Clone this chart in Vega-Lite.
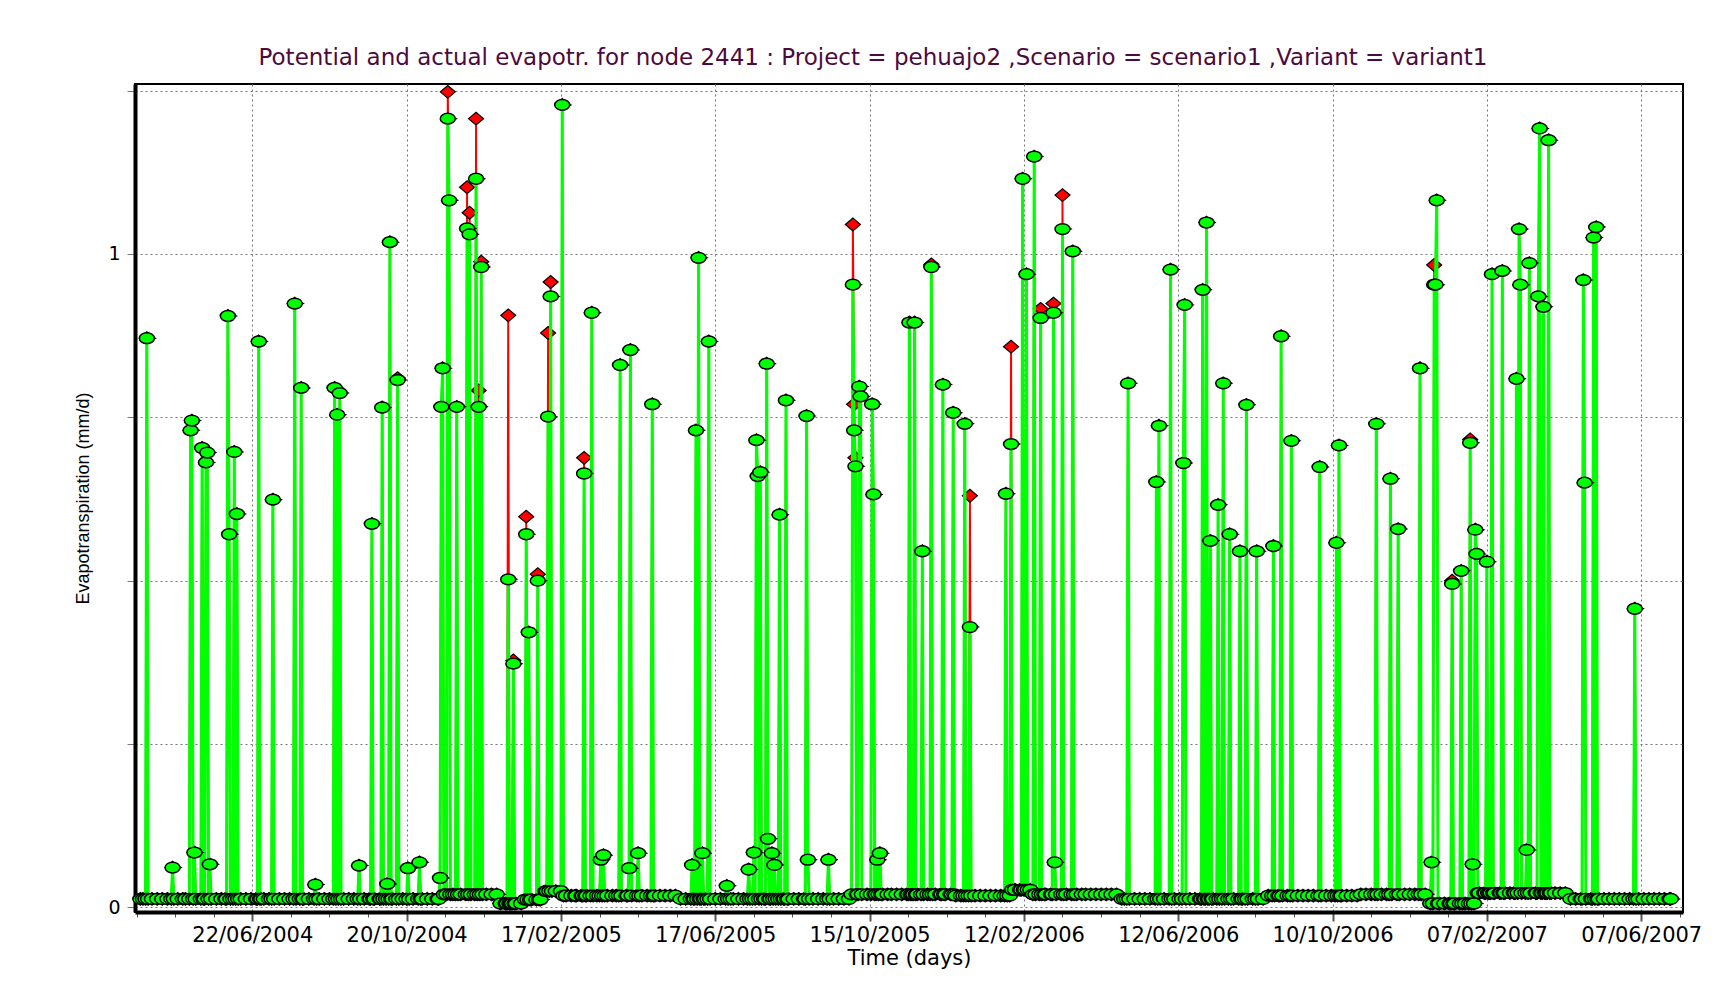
{
"$schema": "https://vega.github.io/schema/vega-lite/v6.json",
"width": 1548, "height": 828,
"autosize": {"type": "none"},
"padding": {"left": 135, "top": 84, "right": 36, "bottom": 91},
"background": "white",
"title": {"text": "Potential and actual evapotr. for node 2441  : Project = pehuajo2 ,Scenario = scenario1 ,Variant = variant1", "font": "DejaVu Sans", "fontSize": 23, "fontWeight": "normal", "color": "#4d0a40", "anchor": "middle", "offset": 13, "dx": -36},
"config": {"view": {"stroke": "black", "strokeWidth": 2}},
"data": {"values": [
{"d":"2004-03-27","a":0.013,"p":0.013},{"d":"2004-03-29","a":0.013,"p":0.013},{"d":"2004-03-31","a":0.013,"p":0.013},
{"d":"2004-04-01","a":0.871,"p":0.871},{"d":"2004-04-02","a":0.013,"p":0.013},{"d":"2004-04-05","a":0.013,"p":0.013},{"d":"2004-04-09","a":0.013,"p":0.013},{"d":"2004-04-13","a":0.013,"p":0.013},{"d":"2004-04-17","a":0.013,"p":0.013},{"d":"2004-04-20","a":0.013,"p":0.013},{"d":"2004-04-21","a":0.061,"p":0.061},{"d":"2004-04-22","a":0.013,"p":0.013},{"d":"2004-04-25","a":0.013,"p":0.013},{"d":"2004-04-29","a":0.013,"p":0.013},
{"d":"2004-05-01","a":0.013,"p":0.013},{"d":"2004-05-04","a":0.013,"p":0.013},{"d":"2004-05-05","a":0.73,"p":0.73},{"d":"2004-05-06","a":0.745,"p":0.745},{"d":"2004-05-07","a":0.013,"p":0.013},{"d":"2004-05-08","a":0.084,"p":0.084},{"d":"2004-05-09","a":0.013,"p":0.013},{"d":"2004-05-13","a":0.013,"p":0.013},{"d":"2004-05-14","a":0.703,"p":0.703},{"d":"2004-05-15","a":0.013,"p":0.013},{"d":"2004-05-16","a":0.013,"p":0.013},{"d":"2004-05-17","a":0.681,"p":0.681},{"d":"2004-05-18","a":0.696,"p":0.696},{"d":"2004-05-19","a":0.013,"p":0.013},{"d":"2004-05-20","a":0.066,"p":0.066},{"d":"2004-05-21","a":0.013,"p":0.013},{"d":"2004-05-25","a":0.013,"p":0.013},{"d":"2004-05-29","a":0.013,"p":0.013},
{"d":"2004-06-01","a":0.013,"p":0.013},{"d":"2004-06-02","a":0.013,"p":0.013},{"d":"2004-06-03","a":0.905,"p":0.905},{"d":"2004-06-04","a":0.571,"p":0.571},{"d":"2004-06-05","a":0.013,"p":0.013},{"d":"2004-06-07","a":0.013,"p":0.013},{"d":"2004-06-08","a":0.697,"p":0.697},{"d":"2004-06-09","a":0.013,"p":0.013},{"d":"2004-06-10","a":0.602,"p":0.602},{"d":"2004-06-11","a":0.013,"p":0.013},{"d":"2004-06-13","a":0.013,"p":0.013},{"d":"2004-06-17","a":0.013,"p":0.013},{"d":"2004-06-21","a":0.013,"p":0.013},{"d":"2004-06-25","a":0.013,"p":0.013},{"d":"2004-06-26","a":0.013,"p":0.013},{"d":"2004-06-27","a":0.866,"p":0.866},{"d":"2004-06-28","a":0.013,"p":0.013},{"d":"2004-06-29","a":0.013,"p":0.013},
{"d":"2004-07-01","a":0.013,"p":0.013},{"d":"2004-07-05","a":0.013,"p":0.013},{"d":"2004-07-07","a":0.013,"p":0.013},{"d":"2004-07-08","a":0.624,"p":0.624},{"d":"2004-07-09","a":0.013,"p":0.013},{"d":"2004-07-13","a":0.013,"p":0.013},{"d":"2004-07-17","a":0.013,"p":0.013},{"d":"2004-07-21","a":0.013,"p":0.013},{"d":"2004-07-24","a":0.013,"p":0.013},{"d":"2004-07-25","a":0.924,"p":0.924},{"d":"2004-07-26","a":0.013,"p":0.013},{"d":"2004-07-29","a":0.013,"p":0.013},{"d":"2004-07-30","a":0.795,"p":0.795},{"d":"2004-07-31","a":0.013,"p":0.013},
{"d":"2004-08-01","a":0.013,"p":0.013},{"d":"2004-08-05","a":0.013,"p":0.013},{"d":"2004-08-09","a":0.013,"p":0.013},{"d":"2004-08-10","a":0.035,"p":0.035},{"d":"2004-08-11","a":0.013,"p":0.013},{"d":"2004-08-13","a":0.013,"p":0.013},{"d":"2004-08-17","a":0.013,"p":0.013},{"d":"2004-08-21","a":0.013,"p":0.013},{"d":"2004-08-24","a":0.013,"p":0.013},{"d":"2004-08-25","a":0.795,"p":0.795},{"d":"2004-08-26","a":0.013,"p":0.013},{"d":"2004-08-27","a":0.754,"p":0.754},{"d":"2004-08-28","a":0.013,"p":0.013},{"d":"2004-08-29","a":0.787,"p":0.787},{"d":"2004-08-30","a":0.013,"p":0.013},
{"d":"2004-09-01","a":0.013,"p":0.013},{"d":"2004-09-05","a":0.013,"p":0.013},{"d":"2004-09-09","a":0.013,"p":0.013},{"d":"2004-09-12","a":0.013,"p":0.013},{"d":"2004-09-13","a":0.064,"p":0.064},{"d":"2004-09-14","a":0.013,"p":0.013},{"d":"2004-09-17","a":0.013,"p":0.013},{"d":"2004-09-21","a":0.013,"p":0.013},{"d":"2004-09-22","a":0.013,"p":0.013},{"d":"2004-09-23","a":0.587,"p":0.587},{"d":"2004-09-24","a":0.013,"p":0.013},{"d":"2004-09-25","a":0.013,"p":0.013},{"d":"2004-09-29","a":0.013,"p":0.013},{"d":"2004-09-30","a":0.013,"p":0.013},
{"d":"2004-10-01","a":0.765,"p":0.765},{"d":"2004-10-02","a":0.013,"p":0.013},{"d":"2004-10-04","a":0.013,"p":0.013},{"d":"2004-10-05","a":0.036,"p":0.036},{"d":"2004-10-06","a":0.013,"p":0.013},{"d":"2004-10-07","a":1.018,"p":1.018},{"d":"2004-10-08","a":0.013,"p":0.013},{"d":"2004-10-09","a":0.013,"p":0.013},{"d":"2004-10-12","a":0.013,"p":0.013},{"d":"2004-10-13","a":0.807,"p":0.81},{"d":"2004-10-14","a":0.013,"p":0.013},{"d":"2004-10-17","a":0.013,"p":0.013},{"d":"2004-10-20","a":0.013,"p":0.013},{"d":"2004-10-21","a":0.06,"p":0.06},{"d":"2004-10-22","a":0.013,"p":0.013},{"d":"2004-10-25","a":0.013,"p":0.013},{"d":"2004-10-29","a":0.013,"p":0.013},{"d":"2004-10-30","a":0.069,"p":0.069},{"d":"2004-10-31","a":0.013,"p":0.013},
{"d":"2004-11-01","a":0.013,"p":0.013},{"d":"2004-11-05","a":0.013,"p":0.013},{"d":"2004-11-09","a":0.013,"p":0.013},{"d":"2004-11-13","a":0.013,"p":0.013},{"d":"2004-11-14","a":0.013,"p":0.013},{"d":"2004-11-15","a":0.045,"p":0.045},{"d":"2004-11-16","a":0.766,"p":0.766},{"d":"2004-11-17","a":0.825,"p":0.825},{"d":"2004-11-18","a":0.02,"p":0.02},{"d":"2004-11-20","a":0.02,"p":0.02},{"d":"2004-11-21","a":1.207,"p":1.248},{"d":"2004-11-22","a":1.082,"p":1.082},{"d":"2004-11-23","a":0.02,"p":0.02},{"d":"2004-11-25","a":0.02,"p":0.02},{"d":"2004-11-27","a":0.02,"p":0.02},{"d":"2004-11-28","a":0.766,"p":0.766},{"d":"2004-11-29","a":0.02,"p":0.02},
{"d":"2004-12-01","a":0.02,"p":0.02},{"d":"2004-12-05","a":0.02,"p":0.02},{"d":"2004-12-06","a":1.039,"p":1.102},{"d":"2004-12-07","a":0.02,"p":0.02},{"d":"2004-12-08","a":1.03,"p":1.063},{"d":"2004-12-09","a":0.02,"p":0.02},{"d":"2004-12-12","a":0.02,"p":0.02},{"d":"2004-12-13","a":1.115,"p":1.207},{"d":"2004-12-14","a":0.02,"p":0.02},{"d":"2004-12-15","a":0.766,"p":0.791},{"d":"2004-12-16","a":0.02,"p":0.02},{"d":"2004-12-17","a":0.98,"p":0.988},{"d":"2004-12-18","a":0.02,"p":0.02},{"d":"2004-12-21","a":0.02,"p":0.02},{"d":"2004-12-25","a":0.02,"p":0.02},{"d":"2004-12-29","a":0.02,"p":0.02},
{"d":"2005-01-01","a":0.006,"p":0.006},{"d":"2005-01-05","a":0.006,"p":0.006},{"d":"2005-01-06","a":0.006,"p":0.006},{"d":"2005-01-07","a":0.502,"p":0.906},{"d":"2005-01-08","a":0.006,"p":0.006},{"d":"2005-01-09","a":0.006,"p":0.006},{"d":"2005-01-10","a":0.006,"p":0.006},{"d":"2005-01-11","a":0.373,"p":0.378},{"d":"2005-01-12","a":0.006,"p":0.006},{"d":"2005-01-13","a":0.006,"p":0.006},{"d":"2005-01-17","a":0.006,"p":0.006},{"d":"2005-01-20","a":0.012,"p":0.012},{"d":"2005-01-21","a":0.571,"p":0.598},{"d":"2005-01-22","a":0.012,"p":0.012},{"d":"2005-01-23","a":0.421,"p":0.421},{"d":"2005-01-24","a":0.012,"p":0.012},{"d":"2005-01-25","a":0.012,"p":0.012},{"d":"2005-01-29","a":0.012,"p":0.012},{"d":"2005-01-30","a":0.5,"p":0.51},{"d":"2005-01-31","a":0.012,"p":0.012},
{"d":"2005-02-01","a":0.012,"p":0.012},{"d":"2005-02-05","a":0.025,"p":0.025},{"d":"2005-02-06","a":0.025,"p":0.025},{"d":"2005-02-07","a":0.751,"p":0.879},{"d":"2005-02-08","a":0.025,"p":0.025},{"d":"2005-02-09","a":0.935,"p":0.957},{"d":"2005-02-10","a":0.025,"p":0.025},{"d":"2005-02-13","a":0.025,"p":0.025},{"d":"2005-02-17","a":0.025,"p":0.025},{"d":"2005-02-18","a":1.228,"p":1.228},{"d":"2005-02-19","a":0.018,"p":0.018},{"d":"2005-02-21","a":0.018,"p":0.018},{"d":"2005-02-25","a":0.018,"p":0.018},{"d":"2005-02-28","a":0.018,"p":0.018},
{"d":"2005-03-01","a":0.018,"p":0.018},{"d":"2005-03-05","a":0.018,"p":0.018},{"d":"2005-03-06","a":0.018,"p":0.018},{"d":"2005-03-07","a":0.664,"p":0.688},{"d":"2005-03-08","a":0.018,"p":0.018},{"d":"2005-03-09","a":0.018,"p":0.018},{"d":"2005-03-12","a":0.018,"p":0.018},{"d":"2005-03-13","a":0.91,"p":0.91},{"d":"2005-03-14","a":0.018,"p":0.018},{"d":"2005-03-17","a":0.018,"p":0.018},{"d":"2005-03-19","a":0.018,"p":0.018},{"d":"2005-03-20","a":0.073,"p":0.073},{"d":"2005-03-21","a":0.018,"p":0.018},{"d":"2005-03-22","a":0.08,"p":0.08},{"d":"2005-03-23","a":0.018,"p":0.018},{"d":"2005-03-25","a":0.018,"p":0.018},{"d":"2005-03-29","a":0.018,"p":0.018},
{"d":"2005-04-01","a":0.018,"p":0.018},{"d":"2005-04-03","a":0.018,"p":0.018},{"d":"2005-04-04","a":0.83,"p":0.83},{"d":"2005-04-05","a":0.018,"p":0.018},{"d":"2005-04-09","a":0.018,"p":0.018},{"d":"2005-04-10","a":0.018,"p":0.018},{"d":"2005-04-11","a":0.06,"p":0.06},{"d":"2005-04-12","a":0.853,"p":0.853},{"d":"2005-04-13","a":0.018,"p":0.018},{"d":"2005-04-17","a":0.018,"p":0.018},{"d":"2005-04-18","a":0.083,"p":0.083},{"d":"2005-04-19","a":0.018,"p":0.018},{"d":"2005-04-21","a":0.018,"p":0.018},{"d":"2005-04-25","a":0.018,"p":0.018},{"d":"2005-04-28","a":0.018,"p":0.018},{"d":"2005-04-29","a":0.77,"p":0.77},{"d":"2005-04-30","a":0.018,"p":0.018},
{"d":"2005-05-01","a":0.018,"p":0.018},{"d":"2005-05-05","a":0.018,"p":0.018},{"d":"2005-05-09","a":0.018,"p":0.018},{"d":"2005-05-13","a":0.018,"p":0.018},{"d":"2005-05-17","a":0.018,"p":0.018},{"d":"2005-05-21","a":0.013,"p":0.013},{"d":"2005-05-25","a":0.013,"p":0.013},{"d":"2005-05-29","a":0.013,"p":0.013},{"d":"2005-05-30","a":0.065,"p":0.065},{"d":"2005-05-31","a":0.013,"p":0.013},
{"d":"2005-06-01","a":0.013,"p":0.013},{"d":"2005-06-02","a":0.73,"p":0.73},{"d":"2005-06-03","a":0.013,"p":0.013},{"d":"2005-06-04","a":0.994,"p":0.994},{"d":"2005-06-05","a":0.013,"p":0.013},{"d":"2005-06-06","a":0.013,"p":0.013},{"d":"2005-06-07","a":0.083,"p":0.083},{"d":"2005-06-08","a":0.013,"p":0.013},{"d":"2005-06-09","a":0.013,"p":0.013},{"d":"2005-06-11","a":0.013,"p":0.013},{"d":"2005-06-12","a":0.866,"p":0.866},{"d":"2005-06-13","a":0.013,"p":0.013},{"d":"2005-06-17","a":0.013,"p":0.013},{"d":"2005-06-21","a":0.013,"p":0.013},{"d":"2005-06-25","a":0.013,"p":0.013},{"d":"2005-06-26","a":0.033,"p":0.033},{"d":"2005-06-27","a":0.013,"p":0.013},{"d":"2005-06-29","a":0.013,"p":0.013},
{"d":"2005-07-01","a":0.013,"p":0.013},{"d":"2005-07-05","a":0.013,"p":0.013},{"d":"2005-07-09","a":0.013,"p":0.013},{"d":"2005-07-12","a":0.013,"p":0.013},{"d":"2005-07-13","a":0.058,"p":0.058},{"d":"2005-07-14","a":0.013,"p":0.013},{"d":"2005-07-16","a":0.013,"p":0.013},{"d":"2005-07-17","a":0.084,"p":0.084},{"d":"2005-07-18","a":0.013,"p":0.013},{"d":"2005-07-19","a":0.715,"p":0.715},{"d":"2005-07-20","a":0.66,"p":0.66},{"d":"2005-07-21","a":0.013,"p":0.013},{"d":"2005-07-22","a":0.666,"p":0.666},{"d":"2005-07-23","a":0.013,"p":0.013},{"d":"2005-07-25","a":0.013,"p":0.013},{"d":"2005-07-26","a":0.013,"p":0.013},{"d":"2005-07-27","a":0.832,"p":0.832},{"d":"2005-07-28","a":0.105,"p":0.105},{"d":"2005-07-29","a":0.013,"p":0.013},{"d":"2005-07-30","a":0.013,"p":0.013},{"d":"2005-07-31","a":0.083,"p":0.083},
{"d":"2005-08-01","a":0.013,"p":0.013},{"d":"2005-08-02","a":0.065,"p":0.065},{"d":"2005-08-03","a":0.013,"p":0.013},{"d":"2005-08-05","a":0.013,"p":0.013},{"d":"2005-08-06","a":0.601,"p":0.601},{"d":"2005-08-07","a":0.013,"p":0.013},{"d":"2005-08-09","a":0.013,"p":0.013},{"d":"2005-08-10","a":0.013,"p":0.013},{"d":"2005-08-11","a":0.776,"p":0.776},{"d":"2005-08-12","a":0.013,"p":0.013},{"d":"2005-08-13","a":0.013,"p":0.013},{"d":"2005-08-17","a":0.013,"p":0.013},{"d":"2005-08-21","a":0.013,"p":0.013},{"d":"2005-08-25","a":0.013,"p":0.013},{"d":"2005-08-26","a":0.013,"p":0.013},{"d":"2005-08-27","a":0.752,"p":0.752},{"d":"2005-08-28","a":0.073,"p":0.073},{"d":"2005-08-29","a":0.013,"p":0.013},
{"d":"2005-09-01","a":0.013,"p":0.013},{"d":"2005-09-05","a":0.013,"p":0.013},{"d":"2005-09-09","a":0.013,"p":0.013},{"d":"2005-09-12","a":0.013,"p":0.013},{"d":"2005-09-13","a":0.073,"p":0.073},{"d":"2005-09-14","a":0.013,"p":0.013},{"d":"2005-09-17","a":0.013,"p":0.013},{"d":"2005-09-21","a":0.013,"p":0.013},{"d":"2005-09-25","a":0.013,"p":0.013},{"d":"2005-09-29","a":0.013,"p":0.013},
{"d":"2005-10-01","a":0.02,"p":0.02},{"d":"2005-10-02","a":0.953,"p":1.045},{"d":"2005-10-03","a":0.73,"p":0.77},{"d":"2005-10-04","a":0.675,"p":0.688},{"d":"2005-10-05","a":0.02,"p":0.02},{"d":"2005-10-06","a":0.02,"p":0.02},{"d":"2005-10-07","a":0.797,"p":0.797},{"d":"2005-10-08","a":0.782,"p":0.782},{"d":"2005-10-09","a":0.02,"p":0.02},{"d":"2005-10-13","a":0.02,"p":0.02},{"d":"2005-10-16","a":0.02,"p":0.02},{"d":"2005-10-17","a":0.77,"p":0.77},{"d":"2005-10-18","a":0.632,"p":0.632},{"d":"2005-10-19","a":0.02,"p":0.02},{"d":"2005-10-20","a":0.02,"p":0.02},{"d":"2005-10-21","a":0.073,"p":0.073},{"d":"2005-10-22","a":0.02,"p":0.02},{"d":"2005-10-23","a":0.083,"p":0.083},{"d":"2005-10-24","a":0.02,"p":0.02},{"d":"2005-10-25","a":0.02,"p":0.02},{"d":"2005-10-29","a":0.02,"p":0.02},
{"d":"2005-11-01","a":0.02,"p":0.02},{"d":"2005-11-05","a":0.02,"p":0.02},{"d":"2005-11-09","a":0.02,"p":0.02},{"d":"2005-11-13","a":0.02,"p":0.02},{"d":"2005-11-14","a":0.02,"p":0.02},{"d":"2005-11-15","a":0.895,"p":0.895},{"d":"2005-11-16","a":0.02,"p":0.02},{"d":"2005-11-17","a":0.02,"p":0.02},{"d":"2005-11-18","a":0.02,"p":0.02},{"d":"2005-11-19","a":0.895,"p":0.895},{"d":"2005-11-20","a":0.02,"p":0.02},{"d":"2005-11-21","a":0.02,"p":0.02},{"d":"2005-11-24","a":0.02,"p":0.02},{"d":"2005-11-25","a":0.545,"p":0.545},{"d":"2005-11-26","a":0.02,"p":0.02},{"d":"2005-11-29","a":0.02,"p":0.02},
{"d":"2005-12-01","a":0.02,"p":0.02},{"d":"2005-12-02","a":0.98,"p":0.984},{"d":"2005-12-03","a":0.02,"p":0.02},{"d":"2005-12-05","a":0.02,"p":0.02},{"d":"2005-12-09","a":0.02,"p":0.02},{"d":"2005-12-10","a":0.02,"p":0.02},{"d":"2005-12-11","a":0.8,"p":0.8},{"d":"2005-12-12","a":0.02,"p":0.02},{"d":"2005-12-13","a":0.02,"p":0.02},{"d":"2005-12-17","a":0.02,"p":0.02},{"d":"2005-12-18","a":0.02,"p":0.02},{"d":"2005-12-19","a":0.757,"p":0.757},{"d":"2005-12-20","a":0.02,"p":0.02},{"d":"2005-12-21","a":0.018,"p":0.018},{"d":"2005-12-25","a":0.018,"p":0.018},{"d":"2005-12-27","a":0.018,"p":0.018},{"d":"2005-12-28","a":0.74,"p":0.74},{"d":"2005-12-29","a":0.018,"p":0.018},{"d":"2005-12-31","a":0.018,"p":0.018},
{"d":"2006-01-01","a":0.429,"p":0.63},{"d":"2006-01-02","a":0.018,"p":0.018},{"d":"2006-01-05","a":0.018,"p":0.018},{"d":"2006-01-09","a":0.018,"p":0.018},{"d":"2006-01-13","a":0.018,"p":0.018},{"d":"2006-01-17","a":0.018,"p":0.018},{"d":"2006-01-21","a":0.018,"p":0.018},{"d":"2006-01-25","a":0.018,"p":0.018},{"d":"2006-01-28","a":0.018,"p":0.018},{"d":"2006-01-29","a":0.633,"p":0.633},{"d":"2006-01-30","a":0.018,"p":0.018},
{"d":"2006-02-01","a":0.018,"p":0.018},{"d":"2006-02-02","a":0.709,"p":0.858},{"d":"2006-02-03","a":0.027,"p":0.027},{"d":"2006-02-05","a":0.027,"p":0.027},{"d":"2006-02-09","a":0.027,"p":0.027},{"d":"2006-02-10","a":0.027,"p":0.027},{"d":"2006-02-11","a":1.115,"p":1.115},{"d":"2006-02-12","a":0.027,"p":0.027},{"d":"2006-02-13","a":0.027,"p":0.027},{"d":"2006-02-14","a":0.969,"p":0.969},{"d":"2006-02-15","a":0.027,"p":0.027},{"d":"2006-02-17","a":0.027,"p":0.027},{"d":"2006-02-19","a":0.02,"p":0.02},{"d":"2006-02-20","a":1.149,"p":1.149},{"d":"2006-02-21","a":0.02,"p":0.02},{"d":"2006-02-24","a":0.02,"p":0.02},{"d":"2006-02-25","a":0.902,"p":0.916},{"d":"2006-02-26","a":0.02,"p":0.02},{"d":"2006-02-28","a":0.02,"p":0.02},
{"d":"2006-03-01","a":0.02,"p":0.02},{"d":"2006-03-05","a":0.02,"p":0.02},{"d":"2006-03-06","a":0.02,"p":0.02},{"d":"2006-03-07","a":0.91,"p":0.924},{"d":"2006-03-08","a":0.069,"p":0.069},{"d":"2006-03-09","a":0.02,"p":0.02},{"d":"2006-03-13","a":0.02,"p":0.02},{"d":"2006-03-14","a":1.038,"p":1.09},{"d":"2006-03-15","a":0.02,"p":0.02},{"d":"2006-03-17","a":0.02,"p":0.02},{"d":"2006-03-21","a":0.02,"p":0.02},{"d":"2006-03-22","a":1.004,"p":1.004},{"d":"2006-03-23","a":0.02,"p":0.02},{"d":"2006-03-25","a":0.02,"p":0.02},{"d":"2006-03-29","a":0.02,"p":0.02},
{"d":"2006-04-01","a":0.02,"p":0.02},{"d":"2006-04-05","a":0.02,"p":0.02},{"d":"2006-04-09","a":0.02,"p":0.02},{"d":"2006-04-13","a":0.02,"p":0.02},{"d":"2006-04-17","a":0.02,"p":0.02},{"d":"2006-04-21","a":0.02,"p":0.02},{"d":"2006-04-25","a":0.02,"p":0.02},{"d":"2006-04-29","a":0.013,"p":0.013},
{"d":"2006-05-01","a":0.013,"p":0.013},{"d":"2006-05-03","a":0.013,"p":0.013},{"d":"2006-05-04","a":0.802,"p":0.802},{"d":"2006-05-05","a":0.013,"p":0.013},{"d":"2006-05-09","a":0.013,"p":0.013},{"d":"2006-05-13","a":0.013,"p":0.013},{"d":"2006-05-17","a":0.013,"p":0.013},{"d":"2006-05-21","a":0.013,"p":0.013},{"d":"2006-05-25","a":0.013,"p":0.013},{"d":"2006-05-26","a":0.651,"p":0.651},{"d":"2006-05-27","a":0.013,"p":0.013},{"d":"2006-05-28","a":0.737,"p":0.737},{"d":"2006-05-29","a":0.013,"p":0.013},
{"d":"2006-06-01","a":0.013,"p":0.013},{"d":"2006-06-05","a":0.013,"p":0.013},{"d":"2006-06-06","a":0.976,"p":0.976},{"d":"2006-06-07","a":0.013,"p":0.013},{"d":"2006-06-09","a":0.013,"p":0.013},{"d":"2006-06-13","a":0.013,"p":0.013},{"d":"2006-06-15","a":0.013,"p":0.013},{"d":"2006-06-16","a":0.68,"p":0.68},{"d":"2006-06-17","a":0.922,"p":0.922},{"d":"2006-06-18","a":0.013,"p":0.013},{"d":"2006-06-21","a":0.013,"p":0.013},{"d":"2006-06-25","a":0.013,"p":0.013},{"d":"2006-06-29","a":0.013,"p":0.013},{"d":"2006-06-30","a":0.013,"p":0.013},
{"d":"2006-07-01","a":0.945,"p":0.945},{"d":"2006-07-02","a":0.013,"p":0.013},{"d":"2006-07-03","a":0.013,"p":0.013},{"d":"2006-07-04","a":1.048,"p":1.048},{"d":"2006-07-05","a":0.013,"p":0.013},{"d":"2006-07-06","a":0.013,"p":0.013},{"d":"2006-07-07","a":0.561,"p":0.561},{"d":"2006-07-08","a":0.013,"p":0.013},{"d":"2006-07-09","a":0.013,"p":0.013},{"d":"2006-07-12","a":0.013,"p":0.013},{"d":"2006-07-13","a":0.616,"p":0.616},{"d":"2006-07-14","a":0.013,"p":0.013},{"d":"2006-07-16","a":0.013,"p":0.013},{"d":"2006-07-17","a":0.802,"p":0.802},{"d":"2006-07-18","a":0.013,"p":0.013},{"d":"2006-07-21","a":0.013,"p":0.013},{"d":"2006-07-22","a":0.571,"p":0.571},{"d":"2006-07-23","a":0.013,"p":0.013},{"d":"2006-07-25","a":0.013,"p":0.013},{"d":"2006-07-29","a":0.013,"p":0.013},{"d":"2006-07-30","a":0.545,"p":0.545},{"d":"2006-07-31","a":0.013,"p":0.013},
{"d":"2006-08-01","a":0.013,"p":0.013},{"d":"2006-08-03","a":0.013,"p":0.013},{"d":"2006-08-04","a":0.769,"p":0.769},{"d":"2006-08-05","a":0.013,"p":0.013},{"d":"2006-08-09","a":0.013,"p":0.013},{"d":"2006-08-11","a":0.013,"p":0.013},{"d":"2006-08-12","a":0.545,"p":0.545},{"d":"2006-08-13","a":0.013,"p":0.013},{"d":"2006-08-17","a":0.013,"p":0.013},{"d":"2006-08-21","a":0.018,"p":0.018},{"d":"2006-08-24","a":0.018,"p":0.018},{"d":"2006-08-25","a":0.553,"p":0.553},{"d":"2006-08-26","a":0.018,"p":0.018},{"d":"2006-08-29","a":0.018,"p":0.018},{"d":"2006-08-30","a":0.018,"p":0.018},{"d":"2006-08-31","a":0.874,"p":0.874},
{"d":"2006-09-01","a":0.018,"p":0.018},{"d":"2006-09-05","a":0.018,"p":0.018},{"d":"2006-09-07","a":0.018,"p":0.018},{"d":"2006-09-08","a":0.714,"p":0.714},{"d":"2006-09-09","a":0.018,"p":0.018},{"d":"2006-09-13","a":0.018,"p":0.018},{"d":"2006-09-17","a":0.018,"p":0.018},{"d":"2006-09-21","a":0.018,"p":0.018},{"d":"2006-09-25","a":0.018,"p":0.018},{"d":"2006-09-29","a":0.018,"p":0.018},{"d":"2006-09-30","a":0.674,"p":0.674},
{"d":"2006-10-01","a":0.018,"p":0.018},{"d":"2006-10-05","a":0.018,"p":0.018},{"d":"2006-10-09","a":0.018,"p":0.018},{"d":"2006-10-12","a":0.018,"p":0.018},{"d":"2006-10-13","a":0.558,"p":0.558},{"d":"2006-10-14","a":0.018,"p":0.018},{"d":"2006-10-15","a":0.707,"p":0.707},{"d":"2006-10-16","a":0.018,"p":0.018},{"d":"2006-10-17","a":0.018,"p":0.018},{"d":"2006-10-21","a":0.018,"p":0.018},{"d":"2006-10-25","a":0.018,"p":0.018},{"d":"2006-10-29","a":0.018,"p":0.018},
{"d":"2006-11-01","a":0.02,"p":0.02},{"d":"2006-11-05","a":0.02,"p":0.02},{"d":"2006-11-09","a":0.02,"p":0.02},{"d":"2006-11-12","a":0.02,"p":0.02},{"d":"2006-11-13","a":0.74,"p":0.74},{"d":"2006-11-14","a":0.02,"p":0.02},{"d":"2006-11-17","a":0.02,"p":0.02},{"d":"2006-11-21","a":0.02,"p":0.02},{"d":"2006-11-23","a":0.02,"p":0.02},{"d":"2006-11-24","a":0.656,"p":0.656},{"d":"2006-11-25","a":0.02,"p":0.02},{"d":"2006-11-29","a":0.02,"p":0.02},{"d":"2006-11-30","a":0.579,"p":0.579},
{"d":"2006-12-01","a":0.02,"p":0.02},{"d":"2006-12-05","a":0.02,"p":0.02},{"d":"2006-12-09","a":0.02,"p":0.02},{"d":"2006-12-13","a":0.02,"p":0.02},{"d":"2006-12-16","a":0.02,"p":0.02},{"d":"2006-12-17","a":0.825,"p":0.825},{"d":"2006-12-18","a":0.02,"p":0.02},{"d":"2006-12-21","a":0.02,"p":0.02},{"d":"2006-12-25","a":0.006,"p":0.006},{"d":"2006-12-26","a":0.069,"p":0.069},{"d":"2006-12-27","a":0.006,"p":0.006},{"d":"2006-12-28","a":0.953,"p":0.983},{"d":"2006-12-29","a":0.953,"p":0.953},{"d":"2006-12-30","a":1.082,"p":1.082},{"d":"2006-12-31","a":0.006,"p":0.006},
{"d":"2007-01-01","a":0.006,"p":0.006},{"d":"2007-01-05","a":0.006,"p":0.006},{"d":"2007-01-09","a":0.006,"p":0.006},{"d":"2007-01-10","a":0.006,"p":0.006},{"d":"2007-01-11","a":0.495,"p":0.5},{"d":"2007-01-12","a":0.006,"p":0.006},{"d":"2007-01-13","a":0.006,"p":0.006},{"d":"2007-01-17","a":0.006,"p":0.006},{"d":"2007-01-18","a":0.515,"p":0.515},{"d":"2007-01-19","a":0.006,"p":0.006},{"d":"2007-01-21","a":0.006,"p":0.006},{"d":"2007-01-24","a":0.006,"p":0.006},{"d":"2007-01-25","a":0.711,"p":0.716},{"d":"2007-01-26","a":0.006,"p":0.006},{"d":"2007-01-27","a":0.066,"p":0.066},{"d":"2007-01-28","a":0.006,"p":0.006},{"d":"2007-01-29","a":0.578,"p":0.578},{"d":"2007-01-30","a":0.541,"p":0.541},{"d":"2007-01-31","a":0.022,"p":0.022},
{"d":"2007-02-01","a":0.022,"p":0.022},{"d":"2007-02-05","a":0.022,"p":0.022},{"d":"2007-02-06","a":0.022,"p":0.022},{"d":"2007-02-07","a":0.529,"p":0.529},{"d":"2007-02-08","a":0.022,"p":0.022},{"d":"2007-02-09","a":0.022,"p":0.022},{"d":"2007-02-10","a":0.022,"p":0.022},{"d":"2007-02-11","a":0.969,"p":0.969},{"d":"2007-02-12","a":0.022,"p":0.022},{"d":"2007-02-13","a":0.022,"p":0.022},{"d":"2007-02-17","a":0.022,"p":0.022},{"d":"2007-02-18","a":0.022,"p":0.022},{"d":"2007-02-19","a":0.974,"p":0.974},{"d":"2007-02-20","a":0.022,"p":0.022},{"d":"2007-02-21","a":0.022,"p":0.022},{"d":"2007-02-25","a":0.022,"p":0.022},{"d":"2007-02-28","a":0.022,"p":0.022},
{"d":"2007-03-01","a":0.022,"p":0.022},{"d":"2007-03-02","a":0.809,"p":0.809},{"d":"2007-03-03","a":0.022,"p":0.022},{"d":"2007-03-04","a":1.038,"p":1.038},{"d":"2007-03-05","a":0.953,"p":0.953},{"d":"2007-03-06","a":0.022,"p":0.022},{"d":"2007-03-09","a":0.022,"p":0.022},{"d":"2007-03-10","a":0.088,"p":0.088},{"d":"2007-03-11","a":0.022,"p":0.022},{"d":"2007-03-12","a":0.986,"p":0.986},{"d":"2007-03-13","a":0.022,"p":0.022},{"d":"2007-03-17","a":0.022,"p":0.022},{"d":"2007-03-18","a":0.022,"p":0.022},{"d":"2007-03-19","a":0.935,"p":0.935},{"d":"2007-03-20","a":1.192,"p":1.192},{"d":"2007-03-21","a":0.022,"p":0.022},{"d":"2007-03-22","a":0.022,"p":0.022},{"d":"2007-03-23","a":0.919,"p":0.919},{"d":"2007-03-24","a":0.022,"p":0.022},{"d":"2007-03-25","a":0.022,"p":0.022},{"d":"2007-03-26","a":0.022,"p":0.022},{"d":"2007-03-27","a":1.174,"p":1.174},{"d":"2007-03-28","a":0.022,"p":0.022},{"d":"2007-03-29","a":0.022,"p":0.022},
{"d":"2007-04-01","a":0.022,"p":0.022},{"d":"2007-04-05","a":0.022,"p":0.022},{"d":"2007-04-09","a":0.022,"p":0.022},{"d":"2007-04-13","a":0.013,"p":0.013},{"d":"2007-04-17","a":0.013,"p":0.013},{"d":"2007-04-21","a":0.013,"p":0.013},{"d":"2007-04-22","a":0.013,"p":0.013},{"d":"2007-04-23","a":0.96,"p":0.96},{"d":"2007-04-24","a":0.65,"p":0.65},{"d":"2007-04-25","a":0.013,"p":0.013},{"d":"2007-04-29","a":0.013,"p":0.013},{"d":"2007-04-30","a":0.013,"p":0.013},
{"d":"2007-05-01","a":1.025,"p":1.025},{"d":"2007-05-02","a":0.013,"p":0.013},{"d":"2007-05-03","a":1.041,"p":1.041},{"d":"2007-05-04","a":0.013,"p":0.013},{"d":"2007-05-05","a":0.013,"p":0.013},{"d":"2007-05-09","a":0.013,"p":0.013},{"d":"2007-05-13","a":0.013,"p":0.013},{"d":"2007-05-17","a":0.013,"p":0.013},{"d":"2007-05-21","a":0.013,"p":0.013},{"d":"2007-05-25","a":0.013,"p":0.013},{"d":"2007-05-29","a":0.013,"p":0.013},
{"d":"2007-06-01","a":0.013,"p":0.013},{"d":"2007-06-02","a":0.457,"p":0.457},{"d":"2007-06-03","a":0.013,"p":0.013},{"d":"2007-06-05","a":0.013,"p":0.013},{"d":"2007-06-09","a":0.013,"p":0.013},{"d":"2007-06-13","a":0.013,"p":0.013},{"d":"2007-06-17","a":0.013,"p":0.013},{"d":"2007-06-21","a":0.013,"p":0.013},{"d":"2007-06-25","a":0.013,"p":0.013},{"d":"2007-06-29","a":0.013,"p":0.013},{"d":"2007-06-30","a":0.013,"p":0.013}
]},
"transform": [{"fold": ["p", "a"], "as": ["s", "v"]}],
"encoding": {
 "x": {"field": "d", "type": "temporal",
  "scale": {"type": "utc", "nice": false, "domain": [{"year":2004,"month":3,"date":22,"hours":19,"utc":true},{"year":2007,"month":7,"date":9,"hours":12,"utc":true}]},
  "axis": {
   "title": "Time (days)", "titleFont": "DejaVu Sans", "titleFontSize": 21, "titleFontWeight": "normal", "titleColor": "black", "titlePadding": 2,
   "values": [
    {"year":2004,"month":3,"date":24,"utc":true},{"year":2004,"month":4,"date":23,"utc":true},{"year":2004,"month":5,"date":23,"utc":true},{"year":2004,"month":6,"date":22,"utc":true},{"year":2004,"month":7,"date":22,"utc":true},{"year":2004,"month":8,"date":21,"utc":true},{"year":2004,"month":9,"date":20,"utc":true},{"year":2004,"month":10,"date":20,"utc":true},{"year":2004,"month":11,"date":19,"utc":true},{"year":2004,"month":12,"date":19,"utc":true},
    {"year":2005,"month":1,"date":18,"utc":true},{"year":2005,"month":2,"date":17,"utc":true},{"year":2005,"month":3,"date":19,"utc":true},{"year":2005,"month":4,"date":18,"utc":true},{"year":2005,"month":5,"date":18,"utc":true},{"year":2005,"month":6,"date":17,"utc":true},{"year":2005,"month":7,"date":17,"utc":true},{"year":2005,"month":8,"date":16,"utc":true},{"year":2005,"month":9,"date":15,"utc":true},{"year":2005,"month":10,"date":15,"utc":true},{"year":2005,"month":11,"date":14,"utc":true},{"year":2005,"month":12,"date":14,"utc":true},
    {"year":2006,"month":1,"date":13,"utc":true},{"year":2006,"month":2,"date":12,"utc":true},{"year":2006,"month":3,"date":14,"utc":true},{"year":2006,"month":4,"date":13,"utc":true},{"year":2006,"month":5,"date":13,"utc":true},{"year":2006,"month":6,"date":12,"utc":true},{"year":2006,"month":7,"date":12,"utc":true},{"year":2006,"month":8,"date":11,"utc":true},{"year":2006,"month":9,"date":10,"utc":true},{"year":2006,"month":10,"date":10,"utc":true},{"year":2006,"month":11,"date":9,"utc":true},{"year":2006,"month":12,"date":9,"utc":true},
    {"year":2007,"month":1,"date":8,"utc":true},{"year":2007,"month":2,"date":7,"utc":true},{"year":2007,"month":3,"date":9,"utc":true},{"year":2007,"month":4,"date":8,"utc":true},{"year":2007,"month":5,"date":8,"utc":true},{"year":2007,"month":6,"date":7,"utc":true},{"year":2007,"month":7,"date":7,"utc":true}
   ],
   "labelExpr": "round((toNumber(datum.value) - utc(2004,5,22)) / 86400000) % 120 == 0 ? utcFormat(datum.value, '%d/%m/%Y') : ''",
   "labelFont": "DejaVu Sans", "labelFontSize": 21, "labelColor": "black", "labelPadding": 3, "labelOverlap": false, "labelFlush": false,
   "domainColor": "black", "domainWidth": 4,
   "tickColor": "#555",
   "tickSize": {"condition": {"test": "round((toNumber(datum.value) - utc(2004,5,22)) / 86400000) % 120 == 0", "value": 9}, "value": 5},
   "tickWidth": {"condition": {"test": "round((toNumber(datum.value) - utc(2004,5,22)) / 86400000) % 120 == 0", "value": 2}, "value": 1},
   "grid": true, "gridColor": "#777", "gridDash": [2, 3], "gridWidth": 1,
   "gridOpacity": {"condition": {"test": "round((toNumber(datum.value) - utc(2004,5,22)) / 86400000) % 120 == 0", "value": 1}, "value": 0}
  }
 },
 "y": {"field": "v", "type": "quantitative",
  "scale": {"domain": [-0.007, 1.26], "nice": false, "zero": false},
  "axis": {"title": "Evapotranspiration (mm/d)", "titleFont": "Liberation Sans", "titleFontSize": 18, "titleFontWeight": "normal", "titleColor": "black", "titlePadding": 15,
   "values": [0, 0.25, 0.5, 0.75, 1, 1.25],
   "labelExpr": "datum.value == 0 ? '0' : (datum.value == 1 ? '1' : '')",
   "labelFont": "DejaVu Sans", "labelFontSize": 19, "labelColor": "black", "labelPadding": 7,
   "tickColor": "#777", "tickSize": 8, "domainColor": "black", "domainWidth": 4,
   "grid": true, "gridColor": "#777", "gridDash": [2, 3], "gridWidth": 1}}
},
"layer": [
 {"transform": [{"filter": "datum.s == 'p'"}],
  "mark": {"type": "line", "color": "#ff0000", "strokeWidth": 2}},
 {"transform": [{"filter": "datum.s == 'p'"}],
  "mark": {"type": "point", "shape": "M-1,0L0,-0.85L1,0L0,0.85Z", "filled": true, "fill": "#ff0000", "stroke": "black", "strokeWidth": 1.2, "size": 225, "opacity": 1}},
 {"transform": [{"filter": "datum.s == 'a'"}],
  "mark": {"type": "line", "color": "#00ff00", "strokeWidth": 3}},
 {"transform": [{"filter": "datum.s == 'a'"}],
  "mark": {"type": "point", "shape": "M0.25,-0.5L1.35,0L0.25,0.5Z", "filled": true, "fill": "black", "strokeWidth": 0, "size": 225, "opacity": 1}},
 {"transform": [{"filter": "datum.s == 'a'"}],
  "mark": {"type": "point", "shape": "M-1,0A1,0.72 0 1,0 1,0A1,0.72 0 1,0 -1,0Z", "filled": true, "fill": "#00ff00", "stroke": "black", "strokeWidth": 1.5, "size": 225, "opacity": 1}}
]
}
